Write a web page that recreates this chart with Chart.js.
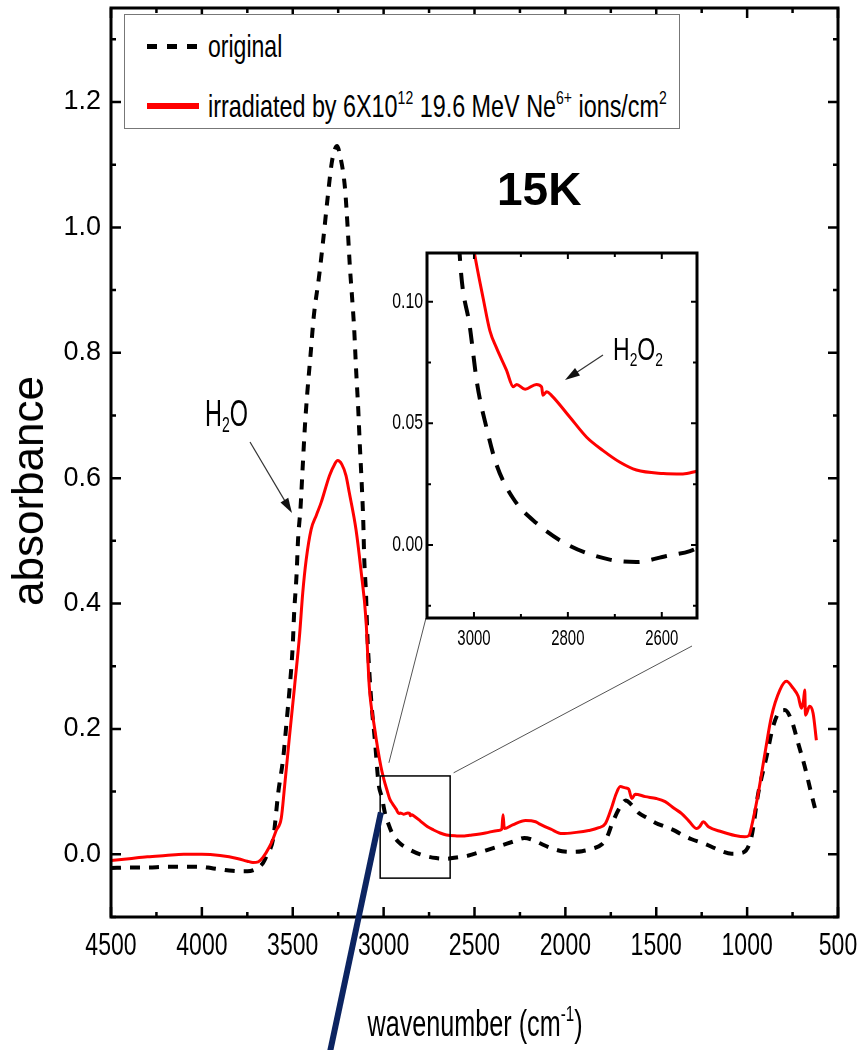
<!DOCTYPE html>
<html>
<head>
<meta charset="utf-8">
<script src="https://cdn.jsdelivr.net/npm/chart.js@4.4.0/dist/chart.umd.min.js"></script>
<style>
body { margin: 0; background: #fff; }
#wrap { position: relative; width: 860px; height: 1050px; overflow: hidden; background: #fff; }
#main { position: absolute; left: 0; top: 0; }
#inset { position: absolute; left: 380px; top: 245px; }
.t { position: absolute; color: #000; white-space: nowrap; line-height: 1;
     font-family: 'Liberation Sans', Arial, sans-serif; transform-origin: 0 50%; }
.t sup { font-size: 0.6em; vertical-align: baseline; position: relative; top: -0.7em; }
.t sub { font-size: 0.6em; vertical-align: baseline; position: relative; top: 0.3em; }
#legend { position: absolute; left: 124px; top: 14px; width: 556px; height: 115px;
          box-sizing: border-box; border: 1px solid #777; background: #fff; }
.dash { position: absolute; left: 22px; width: 52px; height: 5px;
        background: repeating-linear-gradient(90deg, #000 0 10px, transparent 10px 20px); }
.solid { position: absolute; left: 22px; width: 52px; height: 6px; background: #ff0000; }
</style>
</head>
<body>
<div id="wrap">
  <canvas id="main" width="860" height="1050"></canvas>
  <canvas id="inset" width="325" height="420"></canvas>

  <div id="legend">
    <div class="dash" style="top:29px"></div>
    <div class="t" style="left:83px; top:15px; font-size:32px; line-height:32px; transform:scaleX(0.72)">original</div>
    <div class="solid" style="top:88px"></div>
    <div class="t" style="left:83px; top:75px; font-size:32px; line-height:32px; transform:scaleX(0.73)">irradiated by 6X10<sup>12</sup> 19.6 MeV Ne<sup>6+</sup> ions/cm<sup>2</sup></div>
  </div>

  <div class="t" style="left:497px; top:166px; font-weight:bold; font-size:46px">15K</div>
  <div class="t" style="left:205px; top:396px; font-size:36px; transform:scaleX(0.65)">H<sub>2</sub>O</div>
  <div class="t" style="left:613px; top:333px; font-size:32px; transform:scaleX(0.72)">H<sub>2</sub>O<sub>2</sub></div>

  <div class="t" style="left:475px; top:1006px; font-size:36px; transform:translateX(-50%) scaleX(0.7); transform-origin:50% 50%">wavenumber (cm<sup>-1</sup>)</div>
  <div class="t" style="left:28px; top:491px; font-size:44px; transform:translate(-50%,-50%) rotate(-90deg); transform-origin:50% 50%">absorbance</div>
</div>

<script>
// --- data ---
var waveOrig = [4500,4400,4300,4200,4100,4000,3950,3900,3850,3800,3750,3700,3664,3640,3607,3580,3552,3534,3516,3501,
  3492,3479,3471,3457,3446,3433,3420,3402,3384,3356,3332,3310,3286,3268,3255,3244,3213,3198,3186,3171,
  3162,3152,3140,3131,3121,3112,3107,3097,3090,3079,3066,3048,3028,3009,2993,2973,2952,2916,2867,2799,
  2711,2654,2590,2540,2511,2440,2363,2290,2226,2190,2144,2080,2018,1960,1908,1850,1799,1770,1744,1700,
  1667,1640,1596,1550,1503,1450,1393,1350,1305,1234,1180,1141,1085,1021,976,939,893,857,820,793,
  756,719,683,647,619];
var absOrig = [-0.022,-0.021,-0.021,-0.020,-0.020,-0.020,-0.022,-0.024,-0.026,-0.027,-0.027,-0.023,-0.014,0.000,0.026,0.098,0.155,0.211,0.269,0.328,
  0.387,0.446,0.501,0.554,0.614,0.683,0.736,0.797,0.859,0.920,0.981,1.042,1.102,1.125,1.130,1.120,1.064,1.000,0.939,0.878,
  0.838,0.776,0.712,0.653,0.594,0.531,0.474,0.416,0.354,0.293,0.237,0.182,0.113,0.090,0.066,0.048,0.033,0.019,0.009,0.000,
  -0.006,-0.007,-0.0045,-0.0025,0.000,0.006,0.013,0.020,0.026,0.024,0.018,0.010,0.005,0.004,0.005,0.009,0.016,0.028,0.048,0.075,
  0.086,0.080,0.066,0.058,0.050,0.044,0.037,0.030,0.024,0.017,0.010,0.005,0.001,0.003,0.028,0.097,0.156,0.204,0.228,0.230,
  0.214,0.177,0.140,0.097,0.065];

var waveIrr = [4500,4400,4300,4200,4100,4000,3900,3800,3750,3719,3690,3664,3628,3609,3591,3563,3545,3518,3490,3463,
  3445,3426,3399,3370,3344,3298,3270,3253,3230,3207,3189,3152,3125,3097,3079,3051,3015,2999,2980,2966,
  2952,2931,2916,2909,2891,2867,2856,2853,2845,2835,2796,2760,2725,2689,2654,2597,2555,2526,2440,2370,
  2350,2343,2336,2290,2219,2164,2146,2080,2018,1940,1872,1820,1780,1744,1720,1698,1670,1652,1634,1616,
  1560,1500,1451,1400,1360,1320,1277,1262,1241,1213,1140,1067,1012,990,976,939,902,866,820,784,
  747,719,701,690,683,679,656,637,619];
var absIrr = [-0.010,-0.007,-0.004,-0.002,0.000,0.000,-0.002,-0.007,-0.011,-0.013,-0.012,-0.005,0.012,0.024,0.038,0.058,0.108,0.188,0.268,0.348,
  0.417,0.470,0.518,0.541,0.561,0.604,0.622,0.628,0.622,0.604,0.577,0.518,0.454,0.374,0.268,0.204,0.140,0.120,0.101,0.088,
  0.081,0.072,0.065,0.066,0.064,0.066,0.065,0.0615,0.063,0.0615,0.0526,0.0443,0.0388,0.034,0.0308,0.0294,0.0292,0.0303,0.034,0.038,
  0.040,0.063,0.041,0.047,0.054,0.052,0.049,0.040,0.033,0.035,0.038,0.042,0.049,0.076,0.097,0.108,0.106,0.104,0.089,0.096,
  0.092,0.089,0.084,0.073,0.065,0.053,0.041,0.044,0.052,0.044,0.036,0.030,0.028,0.030,0.044,0.097,0.161,0.220,0.262,0.276,
  0.265,0.252,0.233,0.245,0.262,0.222,0.236,0.225,0.182];

// tick values
var xTicks = [4500,4000,3500,3000,2500,2000,1500,1000,500];
var xMinor = [4250,3750,3250,2750,2250,1750,1250,750];
var yTicks = [0.0,0.2,0.4,0.6,0.8,1.0,1.2];
var yMinor = [-0.1,0.1,0.3,0.5,0.7,0.9,1.1,1.3];
var insetXTicks = [3000,2800,2600];
var insetXMinor = [3100,2900,2700];
var insetYTicks = [0.00,0.05,0.10];
var insetYMinor = [-0.025,0.025,0.075];

function pts(xs, ys) {
  return xs.map(function (x, i) { return { x: x, y: ys[i] }; });
}

var ARIAL = "'Liberation Sans', Arial, sans-serif";

// inward ticks + box frame
var frameTicks = {
  id: 'frameTicks',
  beforeDatasetsDraw: function (chart) {
    var a = chart.chartArea, ctx = chart.ctx;
    ctx.save();
    ctx.fillStyle = '#fff';
    ctx.fillRect(a.left, a.top, a.right - a.left, a.bottom - a.top);
    ctx.restore();
  },
  afterDatasetsDraw: function (chart, args, o) {
    var ctx = chart.ctx, a = chart.chartArea, sx = chart.scales.x, sy = chart.scales.y;
    ctx.save();
    ctx.strokeStyle = '#000';
    ctx.lineWidth = o.tickWidth;
    ctx.beginPath();
    function vt(list, len) {
      list.forEach(function (v) {
        var p = sx.getPixelForValue(v);
        ctx.moveTo(p, a.bottom); ctx.lineTo(p, a.bottom - len);
        ctx.moveTo(p, a.top); ctx.lineTo(p, a.top + len);
      });
    }
    function ht(list, len) {
      list.forEach(function (v) {
        var p = sy.getPixelForValue(v);
        ctx.moveTo(a.left, p); ctx.lineTo(a.left + len, p);
        ctx.moveTo(a.right, p); ctx.lineTo(a.right - len, p);
      });
    }
    vt(o.xMajor, o.major); vt(o.xMinor, o.minor);
    ht(o.yMajor, o.major); ht(o.yMinor, o.minor);
    ctx.stroke();
    ctx.lineWidth = o.frameWidth;
    ctx.strokeRect(a.left, a.top, a.right - a.left, a.bottom - a.top);
    ctx.restore();
  }
};

// squeeze tick label glyphs sideways (the figure uses a narrow face)
var narrowTicks = {
  id: 'narrowTicks',
  beforeDraw: function (chart, args, o) {
    Object.keys(o.factors || {}).forEach(function (id) {
      var s = chart.scales[id], f = o.factors[id];
      if (!s || s._narrow) return;
      var draw = s.drawLabels;
      s.drawLabels = function (area) {
        var ctx = this.ctx, rot = ctx.rotate;
        ctx.rotate = function (r) { rot.call(ctx, r); ctx.scale(f, 1); };
        draw.call(this, area);
        delete ctx.rotate;
      };
      s._narrow = true;
    });
  }
};

function arrow(ctx, x1, y1, x2, y2) {
  var ang = Math.atan2(y2 - y1, x2 - x1), L = 15, W = 4.5;
  ctx.beginPath();
  ctx.moveTo(x1, y1);
  ctx.lineTo(x2 - Math.cos(ang) * L * 0.8, y2 - Math.sin(ang) * L * 0.8);
  ctx.stroke();
  ctx.beginPath();
  ctx.moveTo(x2, y2);
  ctx.lineTo(x2 - Math.cos(ang) * L - Math.sin(ang) * W, y2 - Math.sin(ang) * L + Math.cos(ang) * W);
  ctx.lineTo(x2 - Math.cos(ang) * L + Math.sin(ang) * W, y2 - Math.sin(ang) * L - Math.cos(ang) * W);
  ctx.closePath();
  ctx.fill();
}

// zoom box, connectors, marker line and H2O arrow on the main plot
var mainMarks = {
  id: 'mainMarks',
  afterDraw: function (chart) {
    var ctx = chart.ctx, sx = chart.scales.x, sy = chart.scales.y;
    ctx.save();
    var rx1 = sx.getPixelForValue(3019), rx2 = sx.getPixelForValue(2634);
    var ry1 = sy.getPixelForValue(0.125), ry2 = sy.getPixelForValue(-0.038);
    ctx.strokeStyle = '#000';
    ctx.lineWidth = 1.5;
    ctx.strokeRect(rx1, ry1, rx2 - rx1, ry2 - ry1);
    ctx.strokeStyle = '#555';
    ctx.lineWidth = 1;
    ctx.beginPath();
    ctx.moveTo(sx.getPixelForValue(2971), sy.getPixelForValue(0.146));
    ctx.lineTo(426, 618);
    ctx.moveTo(sx.getPixelForValue(2615), sy.getPixelForValue(0.13));
    ctx.lineTo(692, 646);
    ctx.stroke();
    ctx.strokeStyle = '#333';
    ctx.fillStyle = '#111';
    ctx.lineWidth = 1.2;
    arrow(ctx, 250, 442, 292, 513);
    ctx.strokeStyle = '#0c2461';
    ctx.lineWidth = 6;
    ctx.beginPath();
    ctx.moveTo(sx.getPixelForValue(3015), sy.getPixelForValue(0.067));
    ctx.lineTo(330, 1052);
    ctx.stroke();
    ctx.restore();
  }
};

var insetMarks = {
  id: 'insetMarks',
  afterDraw: function (chart) {
    var ctx = chart.ctx;
    ctx.save();
    ctx.strokeStyle = '#333';
    ctx.fillStyle = '#111';
    ctx.lineWidth = 1.2;
    arrow(ctx, 223, 110, 185, 135);
    ctx.restore();
  }
};

Chart.defaults.devicePixelRatio = 1;
Chart.defaults.animation = false;

function noPadX(s, h) { s.height = h; s.paddingLeft = 0; s.paddingRight = 0; }
function noPadY(s, w) { s.width = w; s.paddingTop = 0; s.paddingBottom = 0; }

new Chart(document.getElementById('main'), {
  type: 'scatter',
  data: {
    datasets: [
      { label: 'irradiated', data: pts(waveIrr, absIrr), showLine: true, order: 0,
        borderColor: '#ff0000', borderWidth: 3, pointRadius: 0, cubicInterpolationMode: 'monotone' },
      { label: 'original', data: pts(waveOrig, absOrig), showLine: true, order: 1,
        borderColor: '#000', borderWidth: 4, borderDash: [10, 9], pointRadius: 0, cubicInterpolationMode: 'monotone' }
    ]
  },
  options: {
    responsive: false,
    layout: { padding: { top: 8, right: 22, left: 0, bottom: 0 } },
    plugins: {
      legend: { display: false },
      tooltip: { enabled: false },
      narrowTicks: { factors: { x: 0.72 } },
      frameTicks: { xMajor: xTicks, xMinor: xMinor, yMajor: yTicks, yMinor: yMinor,
                    major: 10, minor: 5, tickWidth: 2.5, frameWidth: 3 }
    },
    scales: {
      x: {
        type: 'linear', reverse: true, min: 500, max: 4500,
        grid: { display: false, drawTicks: false },
        border: { display: false },
        afterBuildTicks: function (s) { s.ticks = xTicks.map(function (v) { return { value: v }; }); },
        afterFit: function (s) { noPadX(s, 133); },
        ticks: { padding: 10, color: '#000', maxRotation: 0, autoSkip: false,
                 font: { family: ARIAL, size: 32 },
                 callback: function (v) { return String(v); } }
      },
      y: {
        min: -0.1, max: 1.35,
        grid: { display: false, drawTicks: false },
        border: { display: false },
        afterBuildTicks: function (s) { s.ticks = yTicks.map(function (v) { return { value: v }; }); },
        afterFit: function (s) { noPadY(s, 111); },
        ticks: { padding: 10, color: '#000', font: { family: ARIAL, size: 27 },
                 callback: function (v) { return v.toFixed(1); } }
      }
    }
  },
  plugins: [frameTicks, narrowTicks, mainMarks]
});

new Chart(document.getElementById('inset'), {
  type: 'scatter',
  data: {
    datasets: [
      { label: 'irradiated', data: pts(waveIrr, absIrr), showLine: true, order: 0,
        borderColor: '#ff0000', borderWidth: 3, pointRadius: 0, cubicInterpolationMode: 'monotone' },
      { label: 'original', data: pts(waveOrig, absOrig), showLine: true, order: 1,
        borderColor: '#000', borderWidth: 4, borderDash: [16, 12], pointRadius: 0, cubicInterpolationMode: 'monotone' }
    ]
  },
  options: {
    responsive: false,
    layout: { padding: { top: 8, right: 8, left: 0, bottom: 0 } },
    plugins: {
      legend: { display: false },
      tooltip: { enabled: false },
      narrowTicks: { factors: { x: 0.68, y: 0.72 } },
      frameTicks: { xMajor: insetXTicks, xMinor: insetXMinor, yMajor: insetYTicks, yMinor: insetYMinor,
                    major: 6, minor: 4, tickWidth: 2, frameWidth: 3 }
    },
    scales: {
      x: {
        type: 'linear', reverse: true, min: 2525, max: 3100,
        grid: { display: false, drawTicks: false },
        border: { display: false },
        afterBuildTicks: function (s) { s.ticks = insetXTicks.map(function (v) { return { value: v }; }); },
        afterFit: function (s) { noPadX(s, 47); },
        ticks: { padding: 8, color: '#000', maxRotation: 0, autoSkip: false,
                 font: { family: ARIAL, size: 22 },
                 callback: function (v) { return String(v); } }
      },
      y: {
        min: -0.03, max: 0.12,
        grid: { display: false, drawTicks: false },
        border: { display: false },
        afterBuildTicks: function (s) { s.ticks = insetYTicks.map(function (v) { return { value: v }; }); },
        afterFit: function (s) { noPadY(s, 47); },
        ticks: { padding: 4, color: '#000', font: { family: ARIAL, size: 22 },
                 callback: function (v) { return v.toFixed(2); } }
      }
    }
  },
  plugins: [frameTicks, narrowTicks, insetMarks]
});
</script>
</body>
</html>
